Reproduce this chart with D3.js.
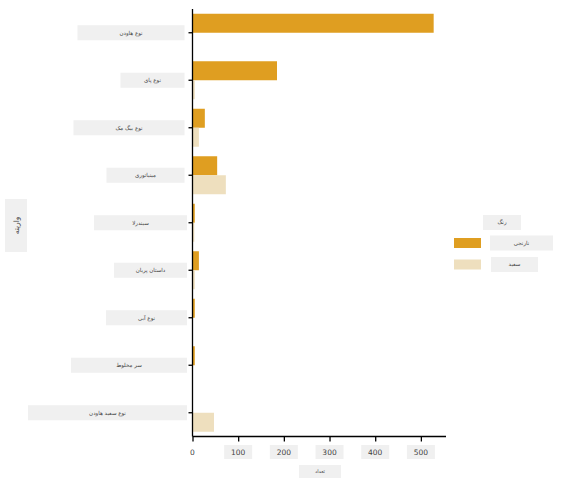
<!DOCTYPE html>
<html><head><meta charset="utf-8">
<script src="https://cdn.jsdelivr.net/npm/d3@7"></script>
<style>body{margin:0;background:#fff}svg{display:block}text{font-family:"DejaVu Sans",sans-serif}</style>
</head><body>
<svg id="c" width="564" height="489"></svg>
<script>
const categories = ["نوع هاودن","نوع پای","نوع بیگ مک","مینیاتوری","سیندرلا","داستان پریان","نوع آبی","سر مخلوط","نوع سفید هاودن"];
const seriesNames = ["نارنجی","سفید"];
const orangeValues = [528, 185, 27, 54, 5, 14, 5, 5, 0];
const whiteValues = [0, 5, 14, 73, 4, 5, 0, 0, 47];
const xTicks = [0,100,200,300,400,500];
const xTitle = "تعداد";
const yTitle = "واریته";
const legendTitle = "رنگ";

// layout constants (not data)
const labelBoxW = [107, 64, 111, 78, 93, 73, 81, 116, 159];
const tickBoxW = [10, 28, 28, 28, 28, 28];
const colors = ["#DF9E21", "#EEDFBE"];
const boxFill = "#F0F0F0";

const svg = d3.select("#c");
const m = {l:192.5, t:9, r:446, b:436.5};
const x = d3.scaleLinear().domain([0,555]).range([m.l, m.r]);
const y = d3.scaleBand().domain(categories).range([m.t, m.b]).paddingInner(0.2).paddingOuter(0.1);
const sub = d3.scaleBand().domain(seriesNames).range([0, y.bandwidth()]);

function rtlText(parent, txt, cx, cy, size){
  const t = parent.append("text").attr("y", cy).attr("dy","0.35em")
    .attr("font-size", size).attr("fill","#444")
    .attr("direction","rtl").attr("text-anchor","start").text(txt);
  const len = t.node().getComputedTextLength();
  t.attr("x", cx + len/2);
  return t;
}

const rows = categories.map((c,i)=>({c, vals:[orangeValues[i], whiteValues[i]]}));
const g = svg.append("g");
rows.forEach(r=>{
  r.vals.forEach((v,j)=>{
    if(v<=0) return;
    g.append("rect").attr("x", x(0)).attr("y", y(r.c)+sub(seriesNames[j]))
      .attr("width", x(v)-x(0)).attr("height", sub.bandwidth()).attr("fill", colors[j]);
  });
});

// y axis
const ya = svg.append("g").attr("transform",`translate(${m.l},0)`)
  .call(d3.axisLeft(y).tickSize(4).tickFormat(""));
ya.select(".domain").attr("d", `M0,${m.t}V${m.b}`).attr("stroke","#000").attr("stroke-width",1.3);
ya.selectAll(".tick line").attr("stroke","#000").attr("stroke-width",1.3);

// y labels with boxes
categories.forEach((c,i)=>{
  const cy = y(c)+y.bandwidth()/2;
  const right = i<4 ? 184.5 : 187;
  const w = labelBoxW[i];
  svg.append("rect").attr("x", right-w).attr("y", cy-7.5).attr("width", w).attr("height", 15).attr("fill", boxFill);
  rtlText(svg, c, right-w/2, cy, 5.5);
});

// x axis
const xa = svg.append("g").attr("transform",`translate(0,${m.b})`)
  .call(d3.axisBottom(x).tickValues(xTicks).tickSize(5).tickFormat(""));
xa.select(".domain").attr("d", `M${m.l},0H${m.r}`).attr("stroke","#000").attr("stroke-width",1.3);
xa.selectAll(".tick line").attr("stroke","#000").attr("stroke-width",1.3);
xTicks.forEach((t,i)=>{
  const w = tickBoxW[i];
  svg.append("rect").attr("x", x(t)-w/2).attr("y", 445).attr("width", w).attr("height", 14).attr("fill", t===0?"#fff":boxFill);
  svg.append("text").attr("x", x(t)).attr("y", 452).attr("dy","0.35em").attr("text-anchor","middle")
    .attr("font-family","'Noto Sans'").attr("font-size",7.5).attr("fill","#444").text(d3.format("d")(t));
});

// x title
svg.append("rect").attr("x",299).attr("y",465).attr("width",42).attr("height",13).attr("fill",boxFill);
rtlText(svg, xTitle, 320, 471.5, 5);

// y title
svg.append("rect").attr("x",5).attr("y",199).attr("width",22).attr("height",53).attr("fill",boxFill);
const yt = svg.append("g").attr("transform","translate(16,225.5) rotate(-90)");
rtlText(yt, yTitle, 0, 0, 7.5);

// legend
svg.append("rect").attr("x",483).attr("y",215).attr("width",38).attr("height",15).attr("fill",boxFill);
rtlText(svg, legendTitle, 502, 222.5, 5.5);
const legBox = [[490,63],[491,47]];
seriesNames.forEach((s,i)=>{
  const cy = 243 + i*21.5;
  svg.append("rect").attr("x",454).attr("y",cy-5).attr("width",27).attr("height",10).attr("fill",colors[i]);
  svg.append("rect").attr("x",legBox[i][0]).attr("y",cy-7.5).attr("width",legBox[i][1]).attr("height",15).attr("fill",boxFill);
  rtlText(svg, s, legBox[i][0]+legBox[i][1]/2, cy, 5.5);
});
</script>
</body></html>
